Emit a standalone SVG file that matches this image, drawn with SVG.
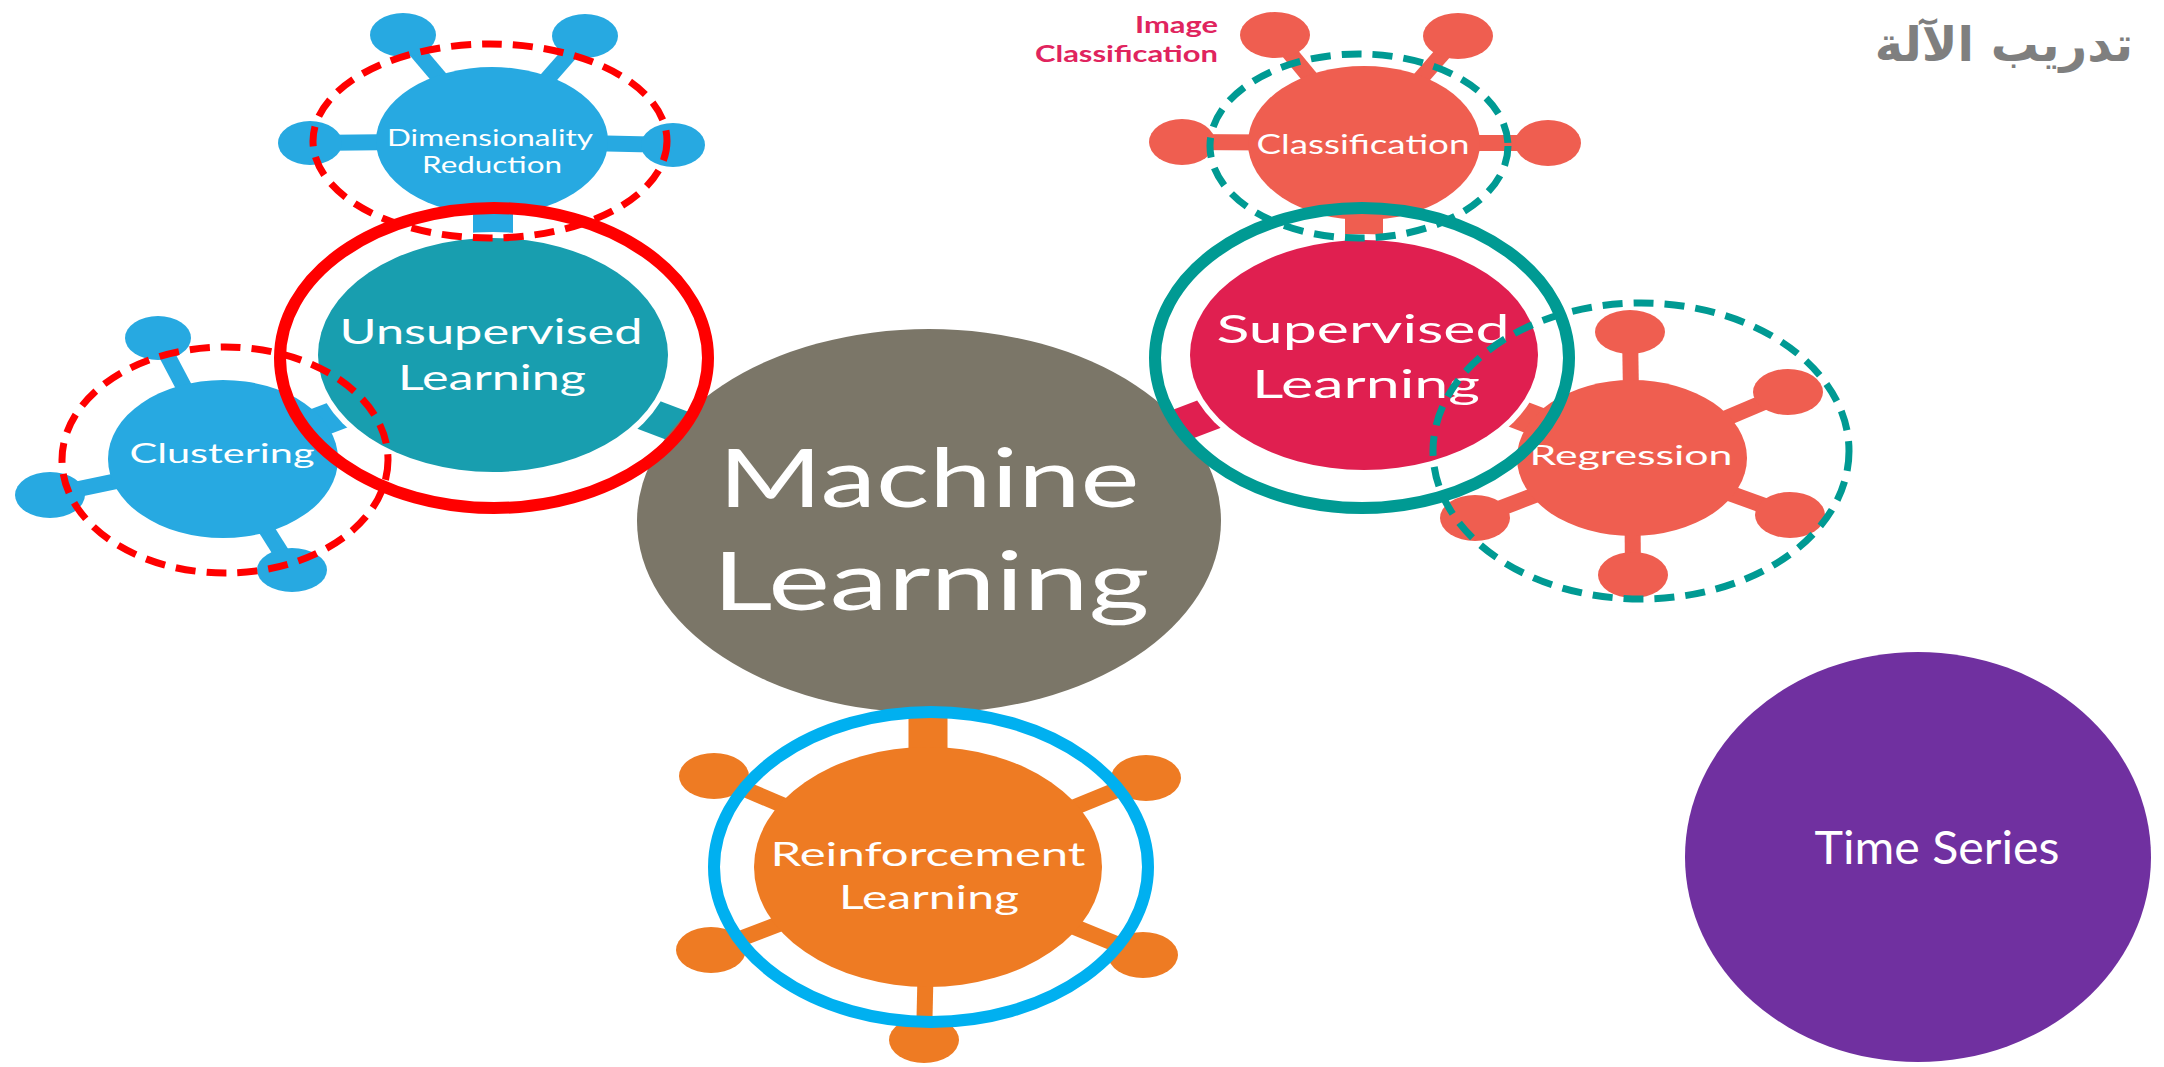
<svg xmlns="http://www.w3.org/2000/svg" width="2164" height="1067" viewBox="0 0 2164 1067">
<style>
  .lbl { font-family: Lato, "Open Sans", "Liberation Sans", sans-serif; fill: #ffffff; text-anchor: middle; }
  .blue { fill: #27A9E1; }
  .teal { fill: #189EAF; }
  .crim { fill: #E01F50; }
  .salm { fill: #EF5E50; }
  .orng { fill: #EE7B23; }
  .sp-blue { stroke: #27A9E1; stroke-width: 16; }
  .sp-salm { stroke: #EF5E50; stroke-width: 16; }
  .sp-orng { stroke: #EE7B23; stroke-width: 16; }
  .halo { fill: #ffffff; }
  .dash-red { fill: none; stroke: #FF0000; stroke-width: 7; stroke-dasharray: 20 11; }
  .dash-teal { fill: none; stroke: #009A93; stroke-width: 7; stroke-dasharray: 20 11; }
  .ring { fill: none; stroke-width: 12; }
  .pink { font-family: Lato, "Liberation Sans", sans-serif; font-size: 23px; font-weight: bold; fill: #E0245E; text-anchor: end; }
</style>
<rect width="2164" height="1067" fill="#ffffff"/>

<g id="connectors">
  <line x1="493" y1="356" x2="929" y2="521" stroke="#189EAF" stroke-width="34"/>
  <line x1="493" y1="141" x2="493" y2="356" stroke="#27A9E1" stroke-width="40"/>
  <line x1="222" y1="459" x2="493" y2="356" stroke="#27A9E1" stroke-width="30"/>
  <line x1="1364" y1="355" x2="929" y2="521" stroke="#E01F50" stroke-width="34"/>
  <line x1="1364" y1="143" x2="1364" y2="355" stroke="#EF5E50" stroke-width="38"/>
  <line x1="1632" y1="458" x2="1364" y2="355" stroke="#EF5E50" stroke-width="30"/>
  <line x1="928" y1="521" x2="928" y2="867" stroke="#EE7B23" stroke-width="39"/>
</g>

<g id="machine-learning">
  <ellipse cx="929" cy="521" rx="292" ry="192" fill="#7B7668"/>
  <text class="lbl" x="929" y="507" font-size="82" textLength="421" lengthAdjust="spacingAndGlyphs">Machine</text>
  <text class="lbl" x="931" y="610" font-size="82" textLength="437" lengthAdjust="spacingAndGlyphs">Learning</text>
</g>

<g id="dimensionality-reduction">
  <line class="sp-blue" x1="493" y1="141" x2="403" y2="35"/>
  <line class="sp-blue" x1="493" y1="141" x2="585" y2="36"/>
  <line class="sp-blue" x1="493" y1="141" x2="310" y2="143"/>
  <line class="sp-blue" x1="493" y1="141" x2="673" y2="145"/>
  <ellipse class="blue" cx="403" cy="35" rx="33" ry="22"/>
  <ellipse class="blue" cx="585" cy="36" rx="33" ry="22"/>
  <ellipse class="blue" cx="310" cy="143" rx="32" ry="22"/>
  <ellipse class="blue" cx="673" cy="145" rx="32" ry="22"/>
  <ellipse class="blue" cx="492" cy="141" rx="116" ry="74"/>
  <text class="lbl" x="490" y="146" font-size="24" textLength="206" lengthAdjust="spacingAndGlyphs">Dimensionality</text>
  <text class="lbl" x="492" y="173" font-size="24" textLength="140" lengthAdjust="spacingAndGlyphs">Reduction</text>
</g>

<g id="clustering">
  <line class="sp-blue" x1="222" y1="459" x2="158" y2="338"/>
  <line class="sp-blue" x1="222" y1="459" x2="50" y2="495"/>
  <line class="sp-blue" x1="222" y1="459" x2="292" y2="570"/>
  <ellipse class="blue" cx="158" cy="338" rx="33" ry="22"/>
  <ellipse class="blue" cx="50" cy="495" rx="35" ry="23"/>
  <ellipse class="blue" cx="292" cy="570" rx="35" ry="22"/>
  <ellipse class="blue" cx="223" cy="459" rx="115" ry="79"/>
  <text class="lbl" x="222" y="463" font-size="27" textLength="185" lengthAdjust="spacingAndGlyphs">Clustering</text>
</g>

<g id="unsupervised-learning">
  <ellipse class="halo" cx="493" cy="355" rx="181" ry="123"/>
  <ellipse class="teal" cx="493" cy="355" rx="175" ry="117"/>
  <text class="lbl" x="491" y="344" font-size="34" textLength="303" lengthAdjust="spacingAndGlyphs">Unsupervised</text>
  <text class="lbl" x="492" y="390" font-size="34" textLength="188" lengthAdjust="spacingAndGlyphs">Learning</text>
</g>

<g id="classification">
  <line class="sp-salm" x1="1364" y1="143" x2="1275" y2="35"/>
  <line class="sp-salm" x1="1364" y1="143" x2="1458" y2="36"/>
  <line class="sp-salm" x1="1364" y1="143" x2="1182" y2="142"/>
  <line class="sp-salm" x1="1364" y1="143" x2="1548" y2="143"/>
  <ellipse class="salm" cx="1275" cy="35" rx="35" ry="23"/>
  <ellipse class="salm" cx="1458" cy="36" rx="35" ry="23"/>
  <ellipse class="salm" cx="1182" cy="142" rx="33" ry="23"/>
  <ellipse class="salm" cx="1548" cy="143" rx="33" ry="23"/>
  <ellipse class="salm" cx="1364" cy="143" rx="116" ry="77"/>
  <text class="lbl" x="1363" y="154" font-size="26" textLength="213" lengthAdjust="spacingAndGlyphs">Classification</text>
</g>

<g id="image-classification">
  <text class="pink" x="1218" y="33" textLength="83" lengthAdjust="spacingAndGlyphs">Image</text>
  <text class="pink" x="1218" y="62" textLength="183" lengthAdjust="spacingAndGlyphs">Classification</text>
</g>

<g id="regression">
  <line class="sp-salm" x1="1632" y1="458" x2="1630" y2="332"/>
  <line class="sp-salm" x1="1632" y1="458" x2="1788" y2="392"/>
  <line class="sp-salm" x1="1632" y1="458" x2="1790" y2="515"/>
  <line class="sp-salm" x1="1632" y1="458" x2="1633" y2="575"/>
  <line class="sp-salm" x1="1632" y1="458" x2="1475" y2="518"/>
  <ellipse class="salm" cx="1630" cy="332" rx="35" ry="22"/>
  <ellipse class="salm" cx="1788" cy="392" rx="35" ry="23"/>
  <ellipse class="salm" cx="1790" cy="515" rx="35" ry="23"/>
  <ellipse class="salm" cx="1633" cy="575" rx="35" ry="23"/>
  <ellipse class="salm" cx="1475" cy="518" rx="35" ry="23"/>
  <ellipse class="salm" cx="1632" cy="458" rx="115" ry="78"/>
  <text class="lbl" x="1631" y="465" font-size="26" textLength="203" lengthAdjust="spacingAndGlyphs">Regression</text>
</g>

<g id="supervised-learning">
  <ellipse class="halo" cx="1364" cy="355" rx="180" ry="121"/>
  <ellipse class="crim" cx="1364" cy="355" rx="174" ry="115"/>
  <text class="lbl" x="1363" y="343" font-size="39" textLength="293" lengthAdjust="spacingAndGlyphs">Supervised</text>
  <text class="lbl" x="1366" y="398" font-size="39" textLength="228" lengthAdjust="spacingAndGlyphs">Learning</text>
</g>

<g id="reinforcement-learning">
  <line class="sp-orng" x1="928" y1="867" x2="714" y2="776"/>
  <line class="sp-orng" x1="928" y1="867" x2="1146" y2="778"/>
  <line class="sp-orng" x1="928" y1="867" x2="711" y2="950"/>
  <line class="sp-orng" x1="928" y1="867" x2="1143" y2="955"/>
  <line class="sp-orng" x1="928" y1="867" x2="924" y2="1040"/>
  <ellipse class="orng" cx="714" cy="776" rx="35" ry="23"/>
  <ellipse class="orng" cx="1146" cy="778" rx="35" ry="23"/>
  <ellipse class="orng" cx="711" cy="950" rx="35" ry="23"/>
  <ellipse class="orng" cx="1143" cy="955" rx="35" ry="23"/>
  <ellipse class="orng" cx="924" cy="1040" rx="35" ry="23"/>
  <ellipse class="orng" cx="928" cy="867" rx="174" ry="120"/>
  <text class="lbl" x="928" y="866" font-size="33" textLength="315" lengthAdjust="spacingAndGlyphs">Reinforcement</text>
  <text class="lbl" x="929" y="909" font-size="33" textLength="180" lengthAdjust="spacingAndGlyphs">Learning</text>
</g>

<g id="time-series">
  <ellipse cx="1918" cy="857" rx="233" ry="205" fill="#7030A0"/>
  <text x="1937" y="864" font-family="Lato, 'Open Sans', 'Liberation Sans', sans-serif" font-size="46" fill="#ffffff" text-anchor="middle" textLength="245" lengthAdjust="spacingAndGlyphs">Time Series</text>
</g>

<g id="highlights">
  <ellipse class="dash-red" cx="490" cy="141" rx="177" ry="97"/>
  <ellipse class="dash-red" cx="225" cy="460" rx="163" ry="113"/>
  <ellipse class="ring" cx="494" cy="358" rx="214" ry="150" stroke="#FF0000"/>
  <ellipse class="dash-teal" cx="1359" cy="146" rx="149" ry="92"/>
  <ellipse class="dash-teal" cx="1641" cy="451" rx="208" ry="148"/>
  <ellipse class="ring" cx="1362" cy="358" rx="207" ry="150" stroke="#009A93"/>
  <ellipse class="ring" cx="931" cy="867" rx="217" ry="155" stroke="#00B0F0" stroke-width="11"/>
</g>

<g id="title">
  <text x="2133" y="61" font-family="'DejaVu Sans', 'Noto Sans', sans-serif" font-weight="bold" font-size="48" fill="#7F7F7F" text-anchor="end">تدريب الآلة</text>
</g>
</svg>
